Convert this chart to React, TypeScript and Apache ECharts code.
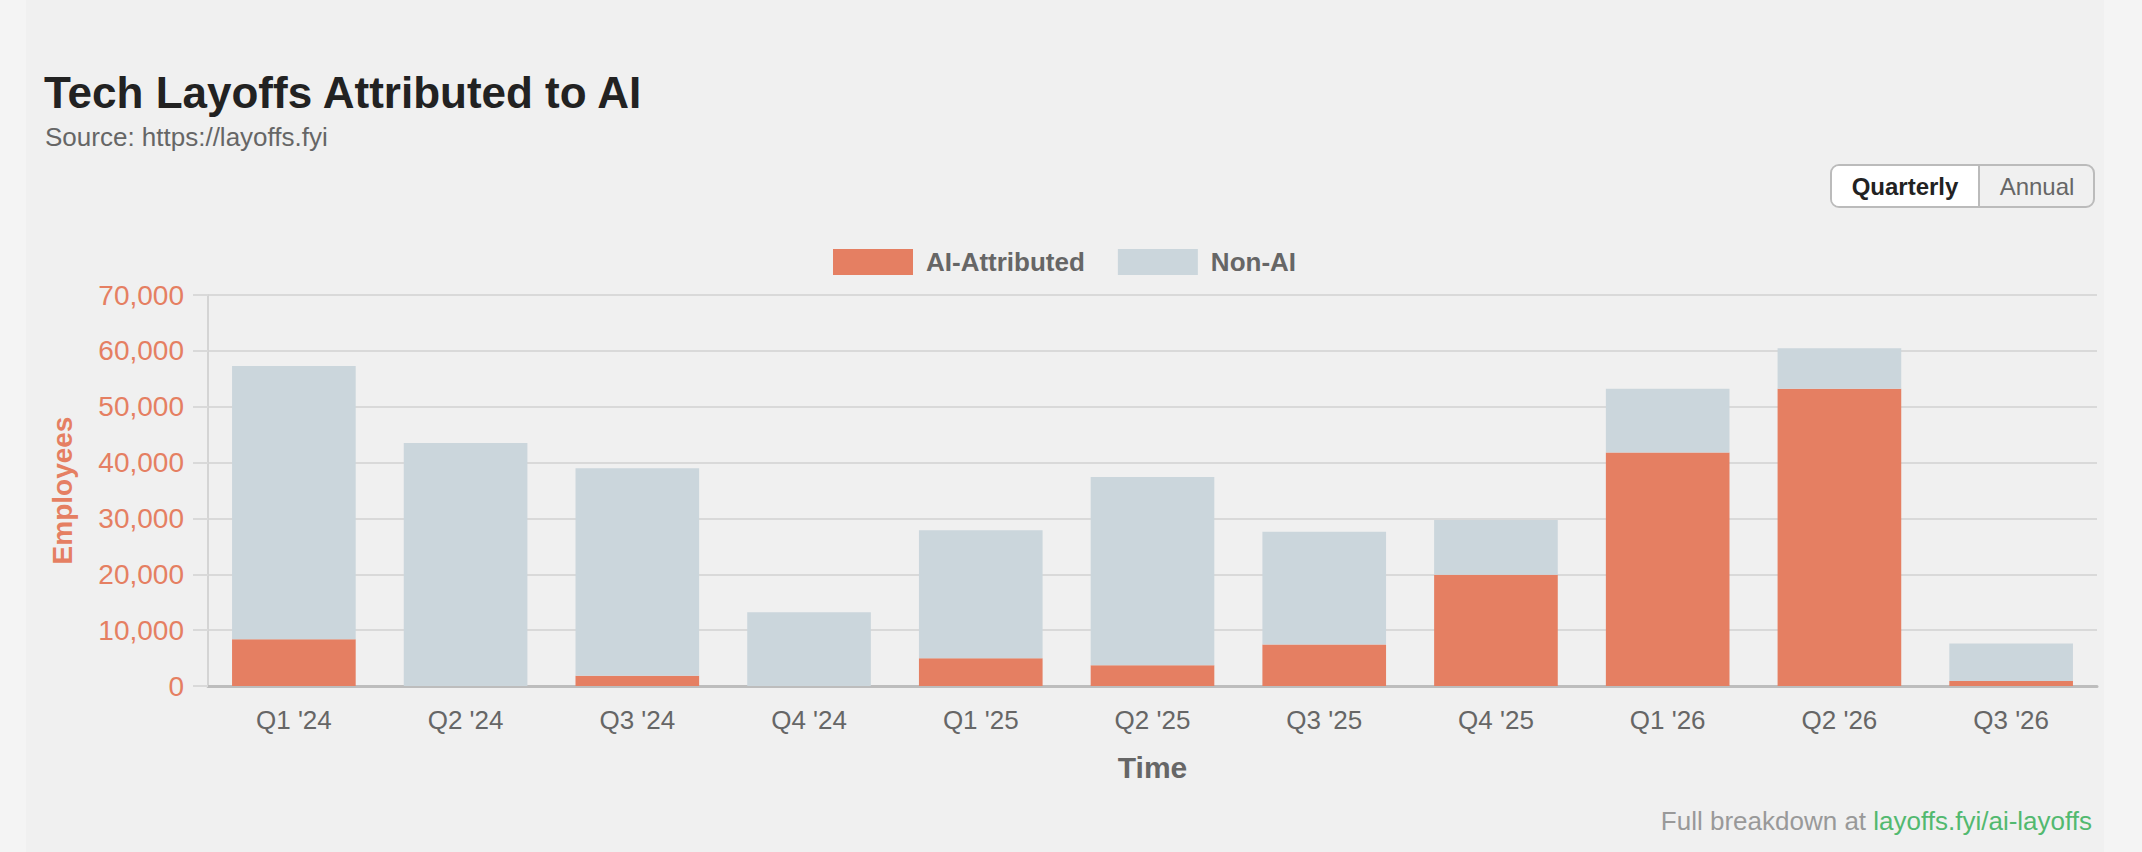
import React, { useEffect, useRef } from "react";
import * as echarts from "echarts";

const categories = ["Q1 '24", "Q2 '24", "Q3 '24", "Q4 '24", "Q1 '25", "Q2 '25", "Q3 '25", "Q4 '25", "Q1 '26", "Q2 '26", "Q3 '26"];
const aiAttributed = [8350, 0, 1850, 0, 4950, 3700, 7450, 19900, 41800, 53200, 900];
const nonAI = [48950, 43500, 37150, 13200, 22950, 33700, 20150, 9800, 11400, 7250, 6700];
const yTicks = { min: 0, max: 70000, interval: 10000 };

const FONT = "'Liberation Sans', Arial, Helvetica, sans-serif";
const ORANGE = "#e57f62";
const SLATE = "#cbd6dc";

export default function App() {
  const ref = useRef<HTMLDivElement>(null);
  useEffect(() => {
    if (!ref.current) return;
    const chart = echarts.init(ref.current, null, { renderer: "svg" });
    chart.setOption({
      animation: false,
      backgroundColor: "#f4f4f4",
      textStyle: { fontFamily: FONT },
      title: [
        {
          text: "Tech Layoffs Attributed to AI",
          left: 44,
          top: 70,
          padding: 0,
          textStyle: { fontFamily: FONT, fontSize: 44, fontWeight: "bold", color: "#222" },
        },
        {
          text: "Source: https://layoffs.fyi",
          left: 45,
          top: 124,
          padding: 0,
          textStyle: { fontFamily: FONT, fontSize: 26, fontWeight: "normal", color: "#666" },
        },
      ],
      legend: {
        left: 833,
        top: 249,
        padding: 0,
        itemWidth: 80,
        itemHeight: 26,
        itemGap: 33,
        icon: "rect",
        selectedMode: false,
        itemStyle: { borderWidth: 0 },
        textStyle: { fontFamily: FONT, fontSize: 26, fontWeight: "bold", color: "#666", padding: [0, 0, 0, 8] },
        data: ["AI-Attributed", "Non-AI"],
      },
      grid: { left: 208, right: 45, top: 295, bottom: 166, containLabel: false },
      xAxis: {
        type: "category",
        data: categories,
        name: "Time",
        nameLocation: "middle",
        nameGap: 66,
        nameTextStyle: { fontFamily: FONT, fontSize: 30, fontWeight: "bold", color: "#666" },
        axisLine: { show: true, lineStyle: { color: "#bdbdbd", width: 3 } },
        axisTick: { show: false },
        axisLabel: { fontFamily: FONT, fontSize: 26, color: "#666", margin: 21 },
        splitLine: { show: false },
      },
      yAxis: {
        type: "value",
        min: yTicks.min,
        max: yTicks.max,
        interval: yTicks.interval,
        name: "Employees",
        nameLocation: "middle",
        nameGap: 132,
        nameTextStyle: { fontFamily: FONT, fontSize: 28, fontWeight: "bold", color: ORANGE },
        axisLine: { show: true, lineStyle: { color: "#d4d4d4", width: 2 } },
        axisTick: { show: true, length: 15, lineStyle: { color: "#d9d9d9", width: 2 } },
        axisLabel: {
          fontFamily: FONT,
          fontSize: 28,
          color: ORANGE,
          margin: 24,
          formatter: (v: number) => v.toLocaleString("en-US"),
        },
        splitLine: { show: true, lineStyle: { color: "#d9d9d9", width: 2 } },
      },
      graphic: [
        { type: "rect", z: -10, silent: true, shape: { x: 26, y: 0, width: 2078, height: 852 }, style: { fill: "#f0f0f0" } },
        {
          type: "rect",
          shape: { x: 1831, y: 165, width: 263, height: 42, r: 8 },
          style: { fill: "#f0f0f0", stroke: "#bbbbbb", lineWidth: 2 },
        },
        {
          type: "rect",
          shape: { x: 1832, y: 166, width: 147, height: 40, r: [7, 0, 0, 7] },
          style: { fill: "#ffffff" },
        },
        {
          type: "line",
          shape: { x1: 1979, y1: 166, x2: 1979, y2: 206 },
          style: { stroke: "#bbbbbb", lineWidth: 2 },
        },
        {
          type: "text",
          x: 1905,
          y: 186,
          style: { text: "Quarterly", fontFamily: FONT, fontSize: 24, fontWeight: "bold", fill: "#222", align: "center", verticalAlign: "middle" },
        },
        {
          type: "text",
          x: 2037,
          y: 186,
          style: { text: "Annual", fontFamily: FONT, fontSize: 24, fontWeight: "normal", fill: "#666", align: "center", verticalAlign: "middle" },
        },
        {
          type: "text",
          x: 2092,
          y: 821,
          style: {
            text: "{a|Full breakdown at }{b|layoffs.fyi/ai-layoffs}",
            align: "right",
            verticalAlign: "middle",
            rich: {
              a: { fontFamily: FONT, fontSize: 26, fill: "#999999", color: "#999999" },
              b: { fontFamily: FONT, fontSize: 26, fill: "#52b96f", color: "#52b96f" },
            },
          },
        },
      ],
      series: [
        {
          name: "AI-Attributed",
          type: "bar",
          stack: "total",
          data: aiAttributed,
          barWidth: "72%",
          itemStyle: { color: ORANGE },
        },
        {
          name: "Non-AI",
          type: "bar",
          stack: "total",
          data: nonAI,
          barWidth: "72%",
          itemStyle: { color: SLATE },
        },
      ],
    });
    return () => chart.dispose();
  }, []);
  return <div ref={ref} style={{ position: "absolute", left: 0, top: 0, width: 2142, height: 852 }} />;
}
